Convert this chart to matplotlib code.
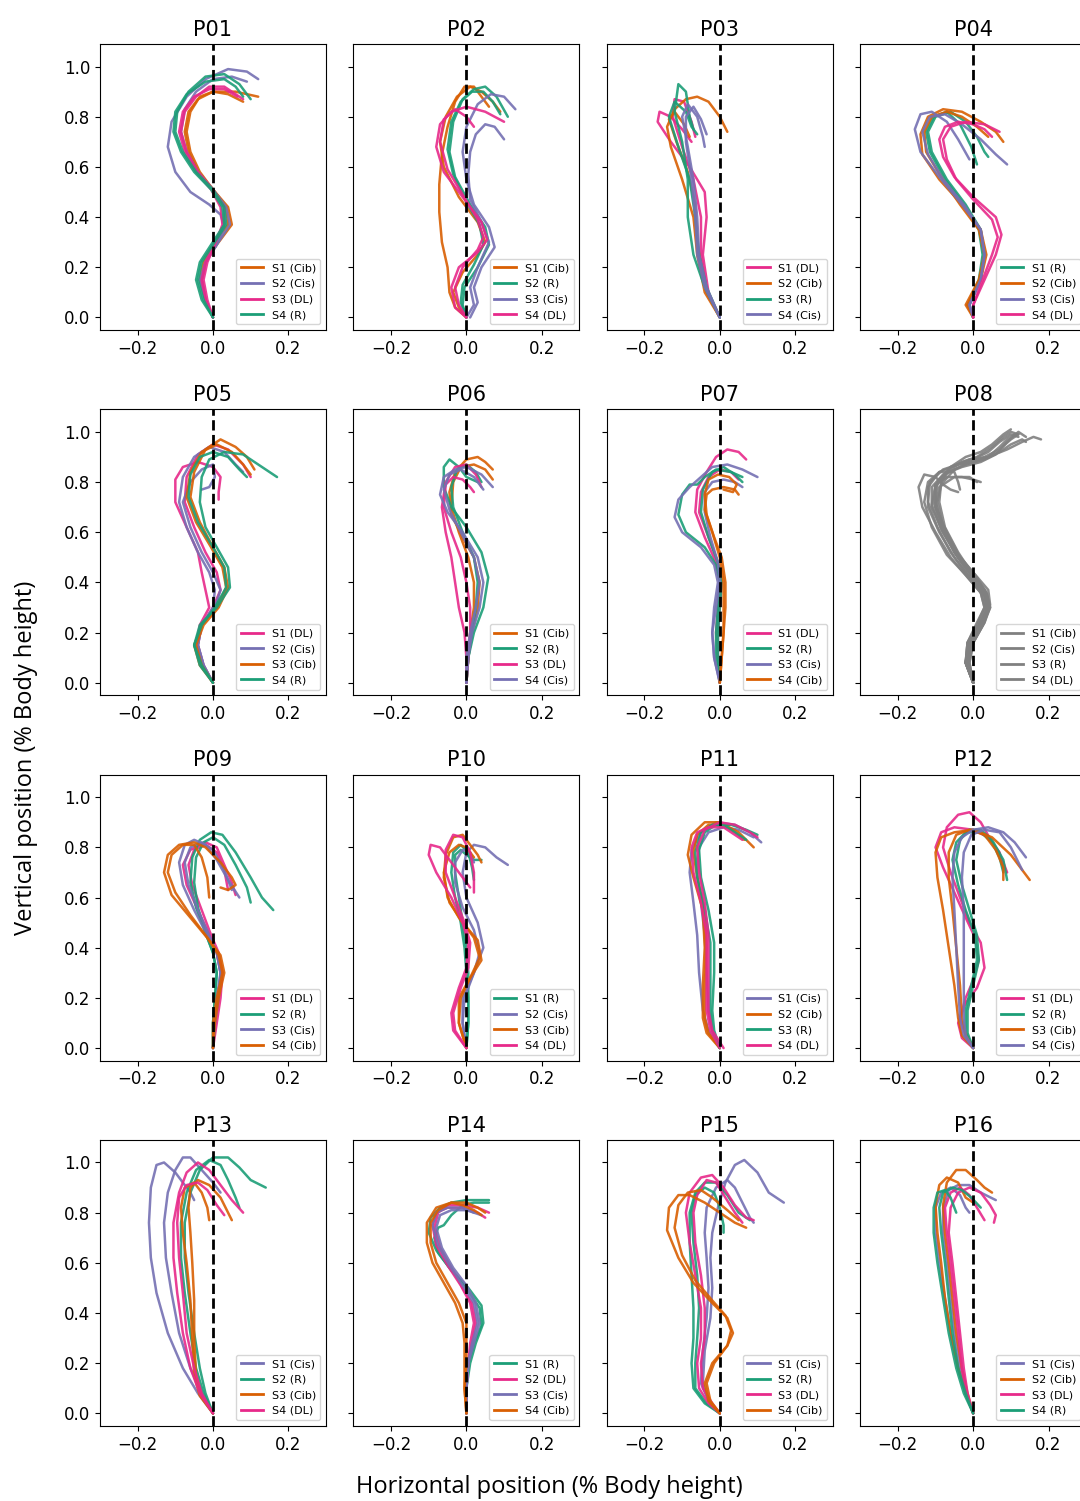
import numpy as np
import matplotlib
matplotlib.use("Agg")
import matplotlib.pyplot as plt
from matplotlib.lines import Line2D

# condition colours (Dark2)
COLORS = {"Cib": "#d95f02", "Cis": "#7570b3", "DL": "#e7298a", "R": "#1b9e77"}
GRAY = "#808080"

TITLES = ["P%02d" % i for i in range(1, 17)]

# session order (legend) per participant
SESSIONS = [
    ["Cib", "Cis", "DL", "R"], ["Cib", "R", "Cis", "DL"], ["DL", "Cib", "R", "Cis"], ["R", "Cib", "Cis", "DL"],
    ["DL", "Cis", "Cib", "R"], ["Cib", "R", "DL", "Cis"], ["DL", "R", "Cis", "Cib"], ["Cib", "Cis", "R", "DL"],
    ["DL", "R", "Cis", "Cib"], ["R", "Cis", "Cib", "DL"], ["Cis", "Cib", "R", "DL"], ["DL", "R", "Cib", "Cis"],
    ["Cis", "R", "Cib", "DL"], ["R", "DL", "Cis", "Cib"], ["Cis", "R", "DL", "Cib"], ["Cis", "Cib", "DL", "R"],
]

# trajectories, (condition, [(x, y), ...])
P01 = [
    ("Cib", [(0,0),(-0.02,0.07),(-0.03,0.15),(-0.02,0.22),(0.01,0.29),(0.05,0.37),(0.04,0.44),(0.0,0.51),(-0.04,0.58),(-0.065,0.66),(-0.075,0.74),(-0.065,0.82),(-0.04,0.87),(0.0,0.9),(0.06,0.9),(0.12,0.88)]),
    ("Cib", [(0,0),(-0.02,0.07),(-0.035,0.15),(-0.025,0.22),(0.0,0.29),(0.04,0.37),(0.035,0.44),(0.0,0.51),(-0.035,0.58),(-0.06,0.66),(-0.07,0.74),(-0.06,0.82),(-0.035,0.88),(0.0,0.9),(0.04,0.89),(0.08,0.86)]),
    ("Cis", [(0,0),(-0.02,0.07),(-0.03,0.15),(-0.02,0.22),(0.01,0.29),(0.03,0.36),(0.02,0.41),(-0.01,0.45),(-0.06,0.5),(-0.1,0.58),(-0.12,0.68),(-0.11,0.78),(-0.07,0.88),(-0.02,0.95),(0.04,0.99),(0.09,0.98),(0.12,0.95)]),
    ("Cis", [(0,0),(-0.02,0.07),(-0.035,0.15),(-0.02,0.22),(0.01,0.29),(0.045,0.37),(0.035,0.44),(0.0,0.51),(-0.04,0.58),(-0.07,0.66),(-0.085,0.74),(-0.075,0.83),(-0.045,0.9),(0.0,0.95),(0.05,0.96),(0.09,0.94)]),
    ("DL", [(0,0),(-0.02,0.07),(-0.03,0.15),(-0.02,0.22),(0.0,0.29),(0.03,0.37),(0.03,0.44),(0.0,0.51),(-0.04,0.58),(-0.07,0.66),(-0.085,0.74),(-0.075,0.82),(-0.045,0.88),(-0.01,0.92),(0.03,0.92),(0.08,0.87)]),
    ("DL", [(0,0),(-0.015,0.07),(-0.025,0.15),(-0.015,0.22),(0.005,0.29),(0.025,0.37),(0.02,0.44),(-0.005,0.51),(-0.045,0.58),(-0.075,0.66),(-0.09,0.74),(-0.08,0.82),(-0.05,0.88),(-0.01,0.91),(0.03,0.91),(0.065,0.88)]),
    ("R", [(0,0),(-0.025,0.07),(-0.04,0.15),(-0.03,0.22),(0.0,0.29),(0.035,0.37),(0.03,0.44),(0.0,0.51),(-0.045,0.58),(-0.08,0.66),(-0.1,0.74),(-0.095,0.82),(-0.065,0.9),(-0.02,0.96),(0.03,0.97),(0.07,0.93),(0.1,0.87)]),
    ("R", [(0,0),(-0.03,0.07),(-0.045,0.15),(-0.035,0.22),(-0.005,0.29),(0.03,0.37),(0.025,0.44),(-0.005,0.51),(-0.05,0.58),(-0.085,0.66),(-0.105,0.74),(-0.1,0.82),(-0.07,0.89),(-0.02,0.94),(0.03,0.95),(0.06,0.92),(0.08,0.88)]),
]
P02 = [
    ("Cib", [(0,0),(-0.03,0.04),(-0.045,0.1),(-0.05,0.2),(-0.065,0.3),(-0.072,0.42),(-0.072,0.53),(-0.065,0.65),(-0.05,0.76),(-0.03,0.86),(-0.005,0.92),(0.02,0.92),(0.04,0.88),(0.06,0.84)]),
    ("Cib", [(0,0),(-0.02,0.04),(-0.035,0.1),(-0.01,0.18),(0.03,0.25),(0.05,0.3),(0.03,0.38),(-0.02,0.48),(-0.06,0.6),(-0.07,0.7),(-0.055,0.8),(-0.025,0.88),(0.01,0.92),(0.04,0.9),(0.07,0.86),(0.09,0.82)]),
    ("R", [(0,0),(-0.01,0.05),(-0.005,0.12),(0.03,0.2),(0.06,0.29),(0.05,0.36),(0.01,0.45),(-0.03,0.56),(-0.045,0.66),(-0.035,0.78),(-0.01,0.87),(0.02,0.91),(0.05,0.92),(0.08,0.88),(0.11,0.8)]),
    ("R", [(0,0),(-0.015,0.06),(-0.01,0.13),(0.02,0.21),(0.045,0.29),(0.035,0.37),(0.0,0.46),(-0.035,0.57),(-0.05,0.67),(-0.04,0.78),(-0.015,0.86),(0.015,0.9),(0.045,0.9),(0.07,0.86),(0.09,0.81)]),
    ("Cis", [(0.01,0),(0.03,0.06),(0.02,0.12),(0.04,0.2),(0.075,0.28),(0.06,0.36),(0.02,0.45),(0.0,0.55),(-0.01,0.66),(0.0,0.76),(0.03,0.85),(0.065,0.89),(0.1,0.88),(0.13,0.83)]),
    ("Cis", [(0,0),(0.02,0.05),(0.01,0.12),(0.03,0.2),(0.06,0.3),(0.04,0.38),(0.01,0.47),(0.005,0.57),(0.01,0.66),(0.025,0.73),(0.05,0.77),(0.075,0.76),(0.1,0.71)]),
    ("DL", [(0,0),(-0.03,0.04),(-0.04,0.12),(-0.02,0.2),(0.03,0.26),(0.055,0.31),(0.04,0.38),(-0.01,0.48),(-0.06,0.58),(-0.08,0.68),(-0.07,0.77),(-0.04,0.82),(0.0,0.84),(0.05,0.82),(0.1,0.78)]),
    ("DL", [(0,0),(-0.02,0.05),(-0.03,0.12),(-0.01,0.2),(0.03,0.27),(0.045,0.32),(0.03,0.39),(-0.01,0.49),(-0.05,0.59),(-0.07,0.7),(-0.06,0.79),(-0.03,0.83),(0.0,0.8),(0.02,0.76)]),
]
P03 = [
    ("DL", [(0,0),(-0.03,0.1),(-0.045,0.25),(-0.035,0.4),(-0.04,0.5),(-0.08,0.6),(-0.13,0.7),(-0.165,0.78),(-0.16,0.82),(-0.13,0.8),(-0.1,0.75),(-0.075,0.7)]),
    ("DL", [(0,0),(-0.035,0.1),(-0.05,0.25),(-0.05,0.4),(-0.07,0.55),(-0.1,0.68),(-0.125,0.8),(-0.12,0.87),(-0.095,0.86),(-0.075,0.78),(-0.065,0.72)]),
    ("Cib", [(0,0),(-0.04,0.1),(-0.06,0.25),(-0.07,0.4),(-0.1,0.55),(-0.13,0.68),(-0.14,0.76),(-0.12,0.83),(-0.09,0.87),(-0.06,0.88),(-0.03,0.86),(0.0,0.8),(0.02,0.74)]),
    ("Cib", [(0,0),(-0.04,0.12),(-0.06,0.3),(-0.065,0.45),(-0.085,0.58),(-0.115,0.7),(-0.135,0.79),(-0.12,0.82),(-0.095,0.77),(-0.08,0.72)]),
    ("R", [(0,0),(-0.04,0.12),(-0.07,0.25),(-0.085,0.4),(-0.085,0.55),(-0.1,0.7),(-0.12,0.82),(-0.11,0.93),(-0.09,0.9),(-0.08,0.8),(-0.07,0.75)]),
    ("R", [(0,0),(-0.035,0.12),(-0.055,0.25),(-0.065,0.4),(-0.08,0.55),(-0.11,0.68),(-0.135,0.8),(-0.12,0.86),(-0.09,0.82),(-0.075,0.76),(-0.06,0.73)]),
    ("Cis", [(0,0),(-0.04,0.12),(-0.06,0.25),(-0.065,0.4),(-0.075,0.55),(-0.09,0.7),(-0.09,0.8),(-0.07,0.84),(-0.05,0.79),(-0.035,0.73)]),
    ("Cis", [(0,0),(-0.035,0.12),(-0.055,0.25),(-0.06,0.4),(-0.07,0.55),(-0.085,0.68),(-0.1,0.8),(-0.085,0.85),(-0.06,0.8),(-0.045,0.72),(-0.04,0.68)]),
]
P04 = [
    ("R", [(0,0),(-0.01,0.05),(0.02,0.15),(0.03,0.25),(0.02,0.35),(-0.02,0.45),(-0.07,0.55),(-0.11,0.66),(-0.12,0.74),(-0.1,0.8),(-0.06,0.82),(-0.02,0.78),(0.01,0.72),(0.03,0.66),(0.04,0.64)]),
    ("R", [(0,0),(-0.015,0.05),(0.015,0.15),(0.025,0.25),(0.015,0.35),(-0.025,0.45),(-0.075,0.55),(-0.115,0.66),(-0.125,0.74),(-0.105,0.8),(-0.07,0.82),(-0.035,0.77),(-0.005,0.68),(0.01,0.61)]),
    ("Cib", [(0,0),(-0.015,0.05),(0.02,0.15),(0.035,0.25),(0.02,0.35),(-0.03,0.45),(-0.09,0.55),(-0.135,0.65),(-0.14,0.73),(-0.12,0.8),(-0.08,0.83),(-0.03,0.82),(0.02,0.78),(0.06,0.74),(0.08,0.7)]),
    ("Cib", [(0,0),(-0.02,0.05),(0.015,0.15),(0.03,0.25),(0.015,0.35),(-0.035,0.45),(-0.085,0.56),(-0.125,0.66),(-0.13,0.74),(-0.11,0.8),(-0.07,0.82),(-0.03,0.8),(0.01,0.76),(0.04,0.72)]),
    ("Cis", [(0,0),(-0.01,0.05),(0.02,0.15),(0.03,0.25),(0.02,0.35),(-0.03,0.45),(-0.09,0.56),(-0.14,0.66),(-0.155,0.75),(-0.14,0.81),(-0.11,0.82),(-0.07,0.78),(-0.04,0.71),(-0.01,0.63)]),
    ("Cis", [(0,0),(-0.01,0.05),(0.02,0.15),(0.03,0.25),(0.02,0.35),(-0.025,0.45),(-0.08,0.55),(-0.12,0.65),(-0.135,0.74),(-0.115,0.8),(-0.075,0.81),(-0.03,0.77),(0.02,0.71),(0.06,0.65),(0.09,0.61)]),
    ("DL", [(0,0),(0.0,0.05),(0.03,0.15),(0.06,0.25),(0.075,0.33),(0.06,0.4),(0.0,0.48),(-0.05,0.56),(-0.08,0.64),(-0.09,0.71),(-0.075,0.76),(-0.04,0.78),(0.0,0.77),(0.03,0.75),(0.05,0.72)]),
    ("DL", [(0,0),(0.0,0.05),(0.025,0.15),(0.05,0.25),(0.065,0.32),(0.05,0.39),(0.0,0.47),(-0.045,0.55),(-0.07,0.63),(-0.08,0.71),(-0.06,0.76),(-0.02,0.78),(0.03,0.77),(0.07,0.74)]),
]
P05 = [
    ("DL", [(0,0),(-0.03,0.07),(-0.045,0.15),(-0.035,0.23),(-0.01,0.3),(-0.02,0.37),(-0.03,0.44),(-0.04,0.52),(-0.07,0.62),(-0.1,0.72),(-0.1,0.81),(-0.08,0.86),(-0.04,0.88),(0.0,0.86),(0.02,0.82),(0.015,0.76),(0.015,0.73)]),
    ("DL", [(0,0),(-0.025,0.07),(-0.04,0.15),(-0.03,0.23),(0.0,0.3),(0.02,0.37),(0.01,0.44),(-0.02,0.52),(-0.05,0.62),(-0.075,0.72),(-0.07,0.82),(-0.04,0.91),(0.0,0.95),(0.04,0.93),(0.08,0.87),(0.1,0.82)]),
    ("Cis", [(0,0),(-0.025,0.07),(-0.04,0.15),(-0.03,0.23),(0.0,0.3),(0.005,0.37),(-0.01,0.44),(-0.04,0.52),(-0.07,0.62),(-0.09,0.72),(-0.08,0.82),(-0.05,0.9),(-0.01,0.94),(0.03,0.92),(0.06,0.87),(0.08,0.84)]),
    ("Cis", [(0,0),(-0.025,0.07),(-0.04,0.15),(-0.03,0.23),(0.005,0.3),(0.02,0.37),(0.0,0.44),(-0.03,0.52),(-0.06,0.62),(-0.08,0.72),(-0.06,0.8),(-0.03,0.85),(0.0,0.87),(0.005,0.82),(-0.01,0.78),(-0.03,0.77)]),
    ("Cib", [(0,0),(-0.03,0.07),(-0.045,0.15),(-0.025,0.23),(0.015,0.3),(0.04,0.38),(0.03,0.46),(0.0,0.54),(-0.035,0.64),(-0.06,0.74),(-0.05,0.84),(-0.02,0.93),(0.02,0.97),(0.06,0.94),(0.09,0.9),(0.11,0.85)]),
    ("Cib", [(0,0),(-0.035,0.07),(-0.05,0.15),(-0.03,0.23),(0.01,0.3),(0.035,0.38),(0.025,0.46),(-0.005,0.54),(-0.045,0.64),(-0.07,0.74),(-0.06,0.84),(-0.03,0.92),(0.01,0.95),(0.05,0.92),(0.08,0.87),(0.1,0.83)]),
    ("R", [(0,0),(-0.03,0.07),(-0.05,0.15),(-0.035,0.23),(0.01,0.3),(0.045,0.38),(0.04,0.46),(0.01,0.54),(-0.02,0.62),(-0.035,0.72),(-0.03,0.82),(-0.01,0.89),(0.03,0.92),(0.08,0.91),(0.13,0.86),(0.17,0.82)]),
    ("R", [(0,0),(-0.035,0.07),(-0.05,0.15),(-0.03,0.23),(0.005,0.3),(0.035,0.38),(0.03,0.46),(0.0,0.54),(-0.04,0.64),(-0.065,0.74),(-0.06,0.83),(-0.035,0.9),(0.0,0.92),(0.04,0.9),(0.07,0.85),(0.09,0.82)]),
]
P06 = [
    ("Cib", [(0,0),(0.005,0.1),(0.015,0.2),(0.03,0.3),(0.035,0.4),(0.02,0.5),(-0.01,0.58),(-0.04,0.67),(-0.045,0.76),(-0.03,0.84),(0.0,0.89),(0.03,0.9),(0.05,0.88),(0.07,0.85)]),
    ("Cib", [(0,0),(0.005,0.1),(0.01,0.2),(0.02,0.3),(0.02,0.4),(0.005,0.5),(-0.02,0.6),(-0.04,0.7),(-0.035,0.8),(-0.015,0.86),(0.02,0.87),(0.05,0.85),(0.07,0.81)]),
    ("R", [(0,0),(0.005,0.1),(0.02,0.2),(0.045,0.3),(0.058,0.42),(0.04,0.52),(0.0,0.62),(-0.04,0.7),(-0.06,0.78),(-0.06,0.86),(-0.045,0.89),(-0.02,0.86),(0.0,0.82),(0.03,0.8)]),
    ("R", [(0,0),(0.005,0.1),(0.015,0.2),(0.025,0.3),(0.03,0.4),(0.02,0.5),(-0.01,0.6),(-0.035,0.7),(-0.04,0.78),(-0.025,0.85),(0.0,0.87),(0.025,0.84),(0.04,0.8)]),
    ("DL", [(0,0),(0.0,0.1),(-0.005,0.2),(-0.02,0.3),(-0.03,0.4),(-0.04,0.5),(-0.055,0.6),(-0.065,0.7),(-0.055,0.8),(-0.03,0.86),(0.0,0.87),(0.025,0.83),(0.04,0.78)]),
    ("DL", [(0,0),(0.005,0.1),(0.01,0.2),(0.01,0.3),(0.0,0.4),(-0.015,0.5),(-0.04,0.6),(-0.06,0.7),(-0.055,0.79),(-0.035,0.82),(-0.01,0.81),(0.01,0.78),(0.02,0.76)]),
    ("Cis", [(0,0),(0.005,0.1),(0.015,0.2),(0.035,0.3),(0.045,0.4),(0.03,0.5),(-0.01,0.6),(-0.05,0.68),(-0.07,0.75),(-0.06,0.82),(-0.03,0.85),(0.0,0.86),(0.04,0.83),(0.07,0.78)]),
    ("Cis", [(0,0),(0.0,0.1),(0.01,0.2),(0.025,0.3),(0.035,0.4),(0.02,0.5),(-0.015,0.6),(-0.045,0.69),(-0.06,0.77),(-0.045,0.83),(-0.015,0.85),(0.02,0.82),(0.045,0.77)]),
]
P07 = [
    ("DL", [(0,0),(-0.005,0.1),(-0.01,0.2),(-0.005,0.3),(0.0,0.4),(-0.01,0.48),(-0.04,0.58),(-0.065,0.68),(-0.06,0.77),(-0.035,0.84),(-0.01,0.9),(0.02,0.93),(0.05,0.92),(0.07,0.89)]),
    ("DL", [(0,0),(-0.005,0.1),(-0.005,0.2),(0.0,0.3),(0.005,0.4),(-0.005,0.48),(-0.03,0.58),(-0.055,0.68),(-0.05,0.76),(-0.03,0.82),(0.0,0.85),(0.03,0.84),(0.05,0.81)]),
    ("R", [(0,0),(-0.01,0.1),(-0.01,0.2),(-0.005,0.3),(0.0,0.4),(-0.01,0.47),(-0.04,0.54),(-0.09,0.6),(-0.11,0.67),(-0.1,0.75),(-0.08,0.79),(-0.06,0.79),(-0.04,0.82),(-0.01,0.85),(0.03,0.84),(0.06,0.82)]),
    ("R", [(0,0),(-0.005,0.1),(-0.005,0.2),(0.0,0.3),(0.005,0.4),(-0.005,0.48),(-0.03,0.58),(-0.05,0.68),(-0.045,0.77),(-0.02,0.84),(0.01,0.86),(0.04,0.83),(0.06,0.8)]),
    ("Cis", [(0,0),(-0.015,0.1),(-0.02,0.2),(-0.015,0.3),(-0.005,0.4),(-0.015,0.47),(-0.05,0.54),(-0.1,0.6),(-0.12,0.66),(-0.11,0.73),(-0.08,0.78),(-0.05,0.82),(-0.02,0.86),(0.02,0.87),(0.06,0.85),(0.1,0.82)]),
    ("Cis", [(0,0),(-0.015,0.1),(-0.02,0.2),(-0.01,0.3),(0.0,0.4),(-0.005,0.48),(-0.025,0.58),(-0.04,0.68),(-0.04,0.76),(-0.02,0.8),(0.01,0.81),(0.04,0.8),(0.06,0.78)]),
    ("Cib", [(0,0),(0.005,0.1),(0.01,0.2),(0.015,0.3),(0.015,0.4),(0.005,0.5),(-0.015,0.58),(-0.035,0.67),(-0.04,0.75),(-0.03,0.81),(-0.005,0.83),(0.025,0.82),(0.045,0.79),(0.035,0.76),(0.01,0.77)]),
    ("Cib", [(0,0),(0.005,0.1),(0.01,0.2),(0.01,0.3),(0.01,0.4),(0.0,0.5),(-0.02,0.6),(-0.04,0.69),(-0.035,0.75),(-0.02,0.77),(0.01,0.78),(0.04,0.77),(0.05,0.75)]),
]
P08 = [
    ("Cib", [(0,0),(-0.02,0.08),(-0.01,0.16),(0.02,0.23),(0.04,0.29),(0.03,0.35),(-0.01,0.42),(-0.05,0.5),(-0.09,0.6),(-0.12,0.7),(-0.12,0.78),(-0.09,0.84),(-0.04,0.87),(0.0,0.89),(0.04,0.92),(0.07,0.96),(0.1,0.99),(0.12,0.98)]),
    ("Cib", [(0,0),(-0.015,0.08),(-0.005,0.16),(0.025,0.23),(0.045,0.3),(0.035,0.36),(0.0,0.43),(-0.04,0.5),(-0.08,0.6),(-0.11,0.7),(-0.11,0.78),(-0.08,0.83),(-0.03,0.86),(0.02,0.88),(0.06,0.91),(0.09,0.96),(0.12,1.0),(0.14,0.98)]),
    ("Cib", [(0,0),(-0.02,0.08),(-0.015,0.16),(0.015,0.23),(0.035,0.29),(0.025,0.35),(-0.015,0.42),(-0.06,0.5),(-0.1,0.6),(-0.135,0.7),(-0.145,0.78),(-0.13,0.83),(-0.1,0.82),(-0.08,0.79),(-0.06,0.77),(-0.04,0.76)]),
    ("Cis", [(0,0),(-0.02,0.08),(-0.01,0.16),(0.02,0.24),(0.04,0.3),(0.03,0.37),(-0.01,0.44),(-0.05,0.52),(-0.08,0.62),(-0.1,0.72),(-0.095,0.8),(-0.06,0.86),(-0.01,0.89),(0.04,0.9),(0.09,0.93),(0.13,0.96),(0.16,0.98),(0.18,0.97)]),
    ("Cis", [(0,0),(-0.01,0.08),(0.0,0.16),(0.03,0.24),(0.045,0.3),(0.035,0.36),(0.005,0.43),(-0.035,0.5),(-0.07,0.6),(-0.1,0.7),(-0.1,0.78),(-0.07,0.84),(-0.03,0.88),(0.01,0.9),(0.05,0.94),(0.08,0.98),(0.1,1.0),(0.12,0.99)]),
    ("Cis", [(0,0),(-0.02,0.08),(-0.015,0.16),(0.01,0.24),(0.03,0.3),(0.02,0.36),(-0.02,0.44),(-0.06,0.52),(-0.095,0.62),(-0.12,0.72),(-0.115,0.8),(-0.08,0.85),(-0.04,0.87),(0.0,0.88),(0.04,0.9),(0.07,0.94),(0.09,0.97),(0.11,0.99)]),
    ("R", [(0,0),(-0.015,0.08),(0.0,0.16),(0.03,0.24),(0.04,0.29),(0.03,0.35),(-0.01,0.43),(-0.05,0.52),(-0.085,0.62),(-0.105,0.72),(-0.1,0.79),(-0.07,0.82),(-0.03,0.82),(0.0,0.81),(0.02,0.8)]),
    ("R", [(0,0),(-0.02,0.08),(-0.01,0.16),(0.015,0.23),(0.035,0.3),(0.03,0.36),(-0.005,0.43),(-0.045,0.51),(-0.085,0.61),(-0.11,0.71),(-0.1,0.79),(-0.065,0.84),(-0.02,0.87),(0.03,0.89),(0.07,0.92),(0.1,0.95),(0.13,0.97),(0.14,0.96)]),
    ("R", [(0,0),(-0.015,0.08),(-0.005,0.16),(0.025,0.24),(0.045,0.31),(0.04,0.37),(0.0,0.44),(-0.045,0.52),(-0.08,0.62),(-0.095,0.72),(-0.085,0.79),(-0.05,0.85),(-0.01,0.88),(0.03,0.9),(0.07,0.93),(0.1,0.97),(0.12,0.99)]),
    ("DL", [(0,0),(-0.02,0.08),(-0.015,0.16),(0.01,0.23),(0.03,0.3),(0.02,0.36),(-0.02,0.43),(-0.07,0.51),(-0.11,0.62),(-0.13,0.72),(-0.12,0.8),(-0.09,0.84),(-0.05,0.84),(-0.04,0.8),(-0.035,0.77)]),
    ("DL", [(0,0),(-0.01,0.08),(0.0,0.16),(0.025,0.23),(0.04,0.3),(0.03,0.36),(-0.005,0.44),(-0.04,0.52),(-0.075,0.62),(-0.09,0.72),(-0.085,0.8),(-0.06,0.86),(-0.02,0.9),(0.02,0.92),(0.05,0.95),(0.08,0.99),(0.1,1.01)]),
    ("DL", [(0,0),(-0.02,0.08),(-0.01,0.16),(0.02,0.23),(0.04,0.29),(0.035,0.35),(0.0,0.42),(-0.04,0.5),(-0.075,0.6),(-0.1,0.7),(-0.09,0.78),(-0.05,0.82),(-0.01,0.82),(0.01,0.8)]),
]
P09 = [
    ("DL", [(0,0),(0.005,0.1),(0.015,0.2),(0.02,0.3),(0.01,0.38),(-0.01,0.45),(-0.04,0.55),(-0.07,0.65),(-0.08,0.73),(-0.06,0.79),(-0.02,0.82),(0.01,0.8),(0.03,0.73),(0.05,0.66),(0.06,0.61)]),
    ("DL", [(0,0),(0.01,0.1),(0.02,0.2),(0.025,0.3),(0.015,0.38),(-0.005,0.45),(-0.03,0.55),(-0.055,0.65),(-0.065,0.73),(-0.05,0.79),(-0.02,0.81),(0.01,0.78),(0.03,0.71),(0.04,0.63)]),
    ("R", [(0,0),(0.0,0.1),(0.005,0.2),(0.01,0.3),(0.0,0.38),(-0.02,0.46),(-0.045,0.56),(-0.06,0.66),(-0.055,0.76),(-0.035,0.83),(-0.005,0.86),(0.025,0.85),(0.06,0.78),(0.1,0.68),(0.13,0.6),(0.16,0.55)]),
    ("R", [(0,0),(0.0,0.1),(0.005,0.2),(0.01,0.3),(0.0,0.38),(-0.02,0.46),(-0.04,0.56),(-0.05,0.66),(-0.045,0.76),(-0.025,0.82),(0.0,0.84),(0.03,0.81),(0.06,0.73),(0.09,0.64),(0.1,0.58)]),
    ("Cis", [(0,0),(0.005,0.1),(0.015,0.2),(0.02,0.3),(0.01,0.38),(-0.015,0.45),(-0.05,0.55),(-0.08,0.65),(-0.09,0.74),(-0.075,0.81),(-0.05,0.83),(-0.02,0.81),(0.01,0.75),(0.04,0.67),(0.07,0.6)]),
    ("Cis", [(0,0),(0.005,0.1),(0.01,0.2),(0.02,0.3),(0.01,0.38),(-0.01,0.45),(-0.04,0.55),(-0.065,0.65),(-0.075,0.74),(-0.06,0.8),(-0.03,0.82),(0.0,0.79),(0.03,0.71),(0.05,0.63)]),
    ("Cib", [(0,0),(0.005,0.1),(0.015,0.2),(0.03,0.3),(0.02,0.37),(-0.01,0.43),(-0.06,0.52),(-0.11,0.61),(-0.13,0.7),(-0.12,0.77),(-0.09,0.81),(-0.05,0.82),(-0.02,0.8),(0.02,0.74),(0.05,0.68),(0.06,0.65),(0.04,0.63),(0.02,0.64)]),
    ("Cib", [(0,0),(0.0,0.1),(0.01,0.2),(0.025,0.3),(0.015,0.37),(-0.015,0.44),(-0.06,0.53),(-0.1,0.62),(-0.12,0.7),(-0.11,0.77),(-0.08,0.81),(-0.05,0.81),(-0.03,0.76),(-0.015,0.68),(-0.01,0.6)]),
]
P10 = [
    ("R", [(0,0),(0.005,0.1),(0.005,0.2),(0.005,0.3),(0.0,0.4),(-0.01,0.5),(-0.02,0.6),(-0.03,0.7),(-0.03,0.77),(-0.015,0.79),(0.0,0.77),(0.02,0.75),(0.04,0.75)]),
    ("R", [(0,0),(0.005,0.1),(0.005,0.2),(0.0,0.3),(-0.005,0.4),(-0.015,0.5),(-0.03,0.6),(-0.04,0.7),(-0.035,0.78),(-0.015,0.81),(0.005,0.78),(0.015,0.72),(0.02,0.67)]),
    ("Cis", [(0,0),(-0.01,0.1),(-0.01,0.2),(0.02,0.3),(0.045,0.4),(0.03,0.5),(0.0,0.6),(-0.01,0.7),(0.0,0.78),(0.02,0.81),(0.05,0.8),(0.08,0.76),(0.11,0.73)]),
    ("Cis", [(0,0),(-0.01,0.1),(-0.005,0.2),(0.02,0.3),(0.035,0.38),(0.02,0.47),(-0.01,0.56),(-0.03,0.66),(-0.03,0.74),(-0.01,0.79),(0.01,0.78),(0.02,0.74)]),
    ("Cib", [(0,0),(-0.02,0.1),(-0.02,0.2),(0.01,0.28),(0.04,0.35),(0.03,0.43),(-0.01,0.5),(-0.045,0.58),(-0.06,0.68),(-0.055,0.77),(-0.035,0.84),(-0.01,0.85),(0.01,0.81),(0.03,0.77),(0.04,0.74)]),
    ("Cib", [(0,0),(-0.02,0.1),(-0.015,0.2),(0.01,0.28),(0.035,0.36),(0.02,0.44),(-0.02,0.52),(-0.05,0.6),(-0.06,0.7),(-0.045,0.78),(-0.02,0.81),(0.0,0.8),(0.02,0.76)]),
    ("DL", [(0,0),(-0.035,0.07),(-0.04,0.14),(-0.02,0.24),(0.0,0.32),(0.005,0.42),(-0.01,0.5),(-0.04,0.6),(-0.08,0.7),(-0.1,0.77),(-0.095,0.81),(-0.07,0.8),(-0.04,0.74),(-0.01,0.68),(0.01,0.64)]),
    ("DL", [(0,0),(-0.03,0.07),(-0.035,0.14),(-0.015,0.24),(0.005,0.32),(0.01,0.42),(-0.005,0.5),(-0.03,0.6),(-0.055,0.7),(-0.055,0.79),(-0.035,0.85),(-0.01,0.84),(0.01,0.78),(0.02,0.7),(0.02,0.62)]),
]
P11 = [
    ("Cis", [(0,0),(-0.03,0.07),(-0.045,0.15),(-0.055,0.3),(-0.06,0.45),(-0.07,0.58),(-0.08,0.7),(-0.075,0.79),(-0.05,0.86),(-0.01,0.9),(0.04,0.89),(0.08,0.86),(0.11,0.82)]),
    ("Cis", [(0,0),(-0.02,0.07),(-0.03,0.15),(-0.035,0.3),(-0.04,0.45),(-0.05,0.58),(-0.06,0.7),(-0.055,0.8),(-0.03,0.86),(0.01,0.88),(0.05,0.87),(0.09,0.84)]),
    ("Cib", [(0,0),(-0.035,0.06),(-0.045,0.12),(-0.045,0.25),(-0.04,0.4),(-0.045,0.55),(-0.07,0.68),(-0.085,0.77),(-0.075,0.85),(-0.04,0.9),(0.0,0.9),(0.05,0.86),(0.09,0.8)]),
    ("Cib", [(0,0),(-0.03,0.06),(-0.04,0.12),(-0.04,0.25),(-0.035,0.4),(-0.04,0.55),(-0.06,0.68),(-0.07,0.78),(-0.06,0.85),(-0.03,0.89),(0.01,0.89),(0.04,0.86),(0.065,0.83)]),
    ("R", [(0,0),(-0.015,0.07),(-0.02,0.15),(-0.015,0.3),(-0.015,0.42),(-0.03,0.55),(-0.05,0.68),(-0.055,0.79),(-0.04,0.86),(-0.01,0.89),(0.03,0.89),(0.07,0.87),(0.1,0.85)]),
    ("R", [(0,0),(-0.02,0.07),(-0.025,0.15),(-0.025,0.3),(-0.025,0.42),(-0.04,0.55),(-0.06,0.68),(-0.065,0.78),(-0.05,0.86),(-0.02,0.89),(0.02,0.88),(0.05,0.85),(0.07,0.83)]),
    ("DL", [(0.01,0),(-0.02,0.07),(-0.03,0.15),(-0.03,0.3),(-0.03,0.45),(-0.04,0.58),(-0.055,0.7),(-0.06,0.8),(-0.04,0.87),(0.0,0.9),(0.04,0.89),(0.08,0.86),(0.1,0.84)]),
    ("DL", [(0,0),(-0.025,0.07),(-0.035,0.15),(-0.035,0.3),(-0.035,0.45),(-0.05,0.58),(-0.07,0.7),(-0.075,0.8),(-0.06,0.86),(-0.03,0.88),(0.01,0.88),(0.04,0.85),(0.06,0.83)]),
]
P12 = [
    ("DL", [(0,0),(-0.03,0.04),(-0.04,0.1),(-0.02,0.18),(0.01,0.24),(0.03,0.32),(0.02,0.42),(-0.01,0.5),(-0.035,0.6),(-0.06,0.7),(-0.08,0.8),(-0.07,0.88),(-0.04,0.93),(-0.01,0.94),(0.02,0.9),(0.05,0.82),(0.08,0.74),(0.09,0.7)]),
    ("DL", [(0,0),(-0.02,0.05),(-0.035,0.12),(-0.02,0.2),(0.0,0.27),(0.015,0.35),(0.005,0.44),(-0.02,0.52),(-0.05,0.62),(-0.08,0.72),(-0.1,0.8),(-0.085,0.86),(-0.05,0.88),(0.0,0.87),(0.04,0.84),(0.07,0.78),(0.08,0.72)]),
    ("R", [(0,0),(-0.015,0.06),(-0.015,0.15),(0.0,0.25),(0.015,0.35),(0.01,0.45),(-0.01,0.55),(-0.03,0.65),(-0.045,0.75),(-0.035,0.83),(-0.01,0.87),(0.02,0.87),(0.05,0.83),(0.08,0.75),(0.09,0.67)]),
    ("R", [(0,0),(-0.02,0.06),(-0.02,0.15),(-0.005,0.25),(0.01,0.35),(0.005,0.45),(-0.02,0.55),(-0.04,0.65),(-0.055,0.75),(-0.045,0.82),(-0.02,0.86),(0.02,0.86),(0.05,0.82),(0.07,0.76),(0.08,0.7)]),
    ("Cib", [(0,0),(-0.03,0.05),(-0.04,0.12),(-0.05,0.25),(-0.065,0.4),(-0.08,0.55),(-0.095,0.68),(-0.1,0.78),(-0.085,0.84),(-0.05,0.86),(0.0,0.87),(0.05,0.84),(0.1,0.77),(0.13,0.71),(0.15,0.67)]),
    ("Cib", [(0,0),(-0.02,0.05),(-0.03,0.12),(-0.035,0.25),(-0.045,0.4),(-0.055,0.55),(-0.065,0.68),(-0.065,0.78),(-0.045,0.85),(-0.01,0.87),(0.03,0.85),(0.06,0.79),(0.08,0.72),(0.08,0.67)]),
    ("Cis", [(0,0),(-0.025,0.05),(-0.035,0.12),(-0.04,0.25),(-0.045,0.4),(-0.05,0.55),(-0.055,0.68),(-0.05,0.78),(-0.03,0.84),(0.0,0.87),(0.04,0.88),(0.08,0.86),(0.11,0.82),(0.14,0.76)]),
    ("Cis", [(0,0),(-0.02,0.05),(-0.025,0.12),(-0.025,0.25),(-0.025,0.4),(-0.025,0.55),(-0.03,0.68),(-0.025,0.78),(-0.005,0.85),(0.03,0.87),(0.07,0.86),(0.1,0.8),(0.13,0.71)]),
]
P13 = [
    ("Cis", [(0,0),(-0.04,0.08),(-0.08,0.18),(-0.12,0.32),(-0.15,0.48),(-0.165,0.62),(-0.17,0.76),(-0.165,0.9),(-0.15,0.99),(-0.13,1.0),(-0.1,0.96),(-0.08,0.92),(-0.06,0.88),(-0.05,0.85)]),
    ("Cis", [(0,0),(-0.03,0.08),(-0.06,0.18),(-0.09,0.32),(-0.11,0.48),(-0.125,0.62),(-0.13,0.76),(-0.12,0.88),(-0.1,0.97),(-0.08,1.02),(-0.06,1.02),(-0.03,0.97),(0.0,0.92),(0.02,0.88)]),
    ("R", [(0,0),(-0.02,0.08),(-0.035,0.18),(-0.05,0.32),(-0.065,0.48),(-0.075,0.62),(-0.075,0.76),(-0.06,0.88),(-0.035,0.97),(0.0,1.02),(0.04,1.02),(0.07,0.98),(0.1,0.93),(0.14,0.9)]),
    ("R", [(0,0),(-0.025,0.08),(-0.045,0.18),(-0.06,0.32),(-0.075,0.48),(-0.085,0.62),(-0.085,0.76),(-0.07,0.88),(-0.045,0.97),(-0.01,1.01),(0.02,0.99),(0.04,0.93),(0.06,0.86),(0.07,0.82)]),
    ("Cib", [(0,0),(-0.03,0.07),(-0.045,0.15),(-0.05,0.3),(-0.05,0.45),(-0.055,0.6),(-0.06,0.72),(-0.065,0.82),(-0.06,0.9),(-0.04,0.93),(-0.01,0.91),(0.02,0.86),(0.04,0.8),(0.05,0.77)]),
    ("Cib", [(0,0),(-0.035,0.07),(-0.05,0.15),(-0.055,0.3),(-0.06,0.45),(-0.07,0.6),(-0.08,0.72),(-0.085,0.82),(-0.075,0.9),(-0.05,0.92),(-0.03,0.88),(-0.015,0.82),(-0.01,0.77)]),
    ("DL", [(0,0),(-0.035,0.08),(-0.06,0.18),(-0.08,0.32),(-0.095,0.48),(-0.105,0.62),(-0.105,0.76),(-0.09,0.88),(-0.07,0.96),(-0.04,1.0),(-0.01,0.97),(0.02,0.91),(0.05,0.85),(0.08,0.8)]),
    ("DL", [(0,0),(-0.03,0.08),(-0.05,0.18),(-0.07,0.32),(-0.08,0.48),(-0.09,0.62),(-0.095,0.76),(-0.09,0.86),(-0.07,0.91),(-0.04,0.92),(-0.015,0.89),(0.01,0.83),(0.03,0.79)]),
]
P14 = [
    ("R", [(0,0),(0.0,0.1),(0.005,0.2),(0.02,0.28),(0.04,0.35),(0.035,0.42),(0.0,0.5),(-0.045,0.58),(-0.08,0.65),(-0.1,0.72),(-0.095,0.78),(-0.07,0.82),(-0.04,0.84),(0.0,0.85),(0.03,0.85),(0.06,0.85)]),
    ("R", [(0,0),(0.0,0.1),(0.01,0.2),(0.025,0.28),(0.045,0.36),(0.04,0.43),(0.005,0.5),(-0.04,0.57),(-0.075,0.64),(-0.085,0.7),(-0.075,0.74),(-0.06,0.75),(-0.04,0.79),(-0.01,0.83),(0.02,0.84),(0.06,0.84)]),
    ("DL", [(0,0),(0.0,0.1),(0.005,0.2),(0.015,0.28),(0.025,0.36),(0.015,0.44),(-0.01,0.5),(-0.04,0.58),(-0.07,0.66),(-0.085,0.74),(-0.075,0.8),(-0.05,0.83),(-0.01,0.83),(0.03,0.82),(0.06,0.8)]),
    ("DL", [(0,0),(0.0,0.1),(0.005,0.2),(0.01,0.28),(0.02,0.36),(0.01,0.44),(-0.015,0.51),(-0.05,0.59),(-0.08,0.67),(-0.09,0.75),(-0.08,0.8),(-0.05,0.82),(-0.01,0.82),(0.03,0.8),(0.05,0.78)]),
    ("Cis", [(0,0),(0.0,0.1),(0.005,0.2),(0.02,0.28),(0.035,0.36),(0.025,0.44),(0.0,0.51),(-0.035,0.58),(-0.065,0.66),(-0.08,0.74),(-0.07,0.79),(-0.04,0.81),(0.0,0.81),(0.02,0.8),(0.04,0.79)]),
    ("Cis", [(0,0),(0.0,0.1),(0.005,0.2),(0.015,0.28),(0.03,0.36),(0.02,0.44),(-0.01,0.51),(-0.045,0.59),(-0.075,0.67),(-0.09,0.75),(-0.08,0.8),(-0.05,0.82),(-0.01,0.82),(0.02,0.8)]),
    ("Cib", [(0,0),(-0.005,0.1),(-0.005,0.2),(-0.005,0.28),(-0.01,0.36),(-0.03,0.44),(-0.06,0.52),(-0.09,0.6),(-0.105,0.68),(-0.105,0.76),(-0.08,0.82),(-0.04,0.84),(0.0,0.84),(0.03,0.82),(0.05,0.8)]),
    ("Cib", [(0,0),(-0.005,0.1),(0.0,0.2),(0.0,0.28),(0.0,0.36),(-0.02,0.44),(-0.05,0.52),(-0.08,0.6),(-0.095,0.68),(-0.095,0.76),(-0.075,0.81),(-0.04,0.84),(-0.01,0.83),(0.02,0.81),(0.04,0.79)]),
]
P15 = [
    ("Cis", [(0,0),(-0.03,0.05),(-0.05,0.12),(-0.045,0.25),(-0.035,0.38),(-0.03,0.5),(-0.035,0.62),(-0.04,0.72),(-0.035,0.82),(-0.01,0.9),(0.02,0.93),(0.04,0.9),(0.06,0.84),(0.08,0.78),(0.09,0.76)]),
    ("Cis", [(0,0),(-0.03,0.05),(-0.045,0.12),(-0.04,0.25),(-0.025,0.38),(-0.02,0.5),(-0.025,0.62),(-0.02,0.72),(-0.005,0.82),(0.015,0.92),(0.04,0.99),(0.065,1.01),(0.1,0.96),(0.13,0.88),(0.17,0.84)]),
    ("R", [(0,0),(-0.04,0.04),(-0.07,0.1),(-0.075,0.2),(-0.07,0.3),(-0.07,0.42),(-0.075,0.55),(-0.08,0.68),(-0.08,0.8),(-0.065,0.88),(-0.04,0.92),(-0.01,0.92),(0.02,0.87),(0.05,0.8),(0.08,0.77)]),
    ("R", [(0,0),(-0.035,0.04),(-0.065,0.1),(-0.065,0.2),(-0.06,0.3),(-0.055,0.42),(-0.06,0.55),(-0.07,0.68),(-0.075,0.8),(-0.065,0.87),(-0.04,0.9),(-0.015,0.88),(0.0,0.82),(0.01,0.75),(0.01,0.72)]),
    ("DL", [(0,0),(-0.03,0.04),(-0.055,0.1),(-0.06,0.2),(-0.05,0.3),(-0.05,0.42),(-0.065,0.55),(-0.08,0.68),(-0.09,0.8),(-0.08,0.88),(-0.05,0.94),(-0.02,0.95),(0.01,0.9),(0.04,0.83),(0.07,0.78),(0.09,0.77)]),
    ("DL", [(0,0),(-0.02,0.04),(-0.045,0.1),(-0.05,0.2),(-0.04,0.3),(-0.04,0.42),(-0.05,0.55),(-0.065,0.68),(-0.07,0.8),(-0.06,0.87),(-0.035,0.93),(-0.01,0.92),(0.015,0.86),(0.04,0.8),(0.06,0.76)]),
    ("Cib", [(0,0),(-0.03,0.05),(-0.04,0.12),(-0.02,0.2),(0.02,0.27),(0.035,0.32),(0.02,0.38),(-0.02,0.44),(-0.07,0.52),(-0.11,0.62),(-0.14,0.73),(-0.135,0.82),(-0.11,0.87),(-0.08,0.87),(-0.04,0.84),(0.0,0.8),(0.04,0.76),(0.07,0.74)]),
    ("Cib", [(0,0),(-0.025,0.05),(-0.035,0.12),(-0.015,0.2),(0.02,0.27),(0.03,0.33),(0.015,0.39),(-0.02,0.45),(-0.065,0.53),(-0.1,0.63),(-0.12,0.74),(-0.11,0.83),(-0.085,0.88),(-0.05,0.89),(-0.02,0.86),(0.02,0.81),(0.05,0.77)]),
]
P16 = [
    ("Cis", [(0,0),(-0.02,0.08),(-0.04,0.18),(-0.06,0.32),(-0.075,0.46),(-0.09,0.6),(-0.1,0.72),(-0.1,0.82),(-0.085,0.88),(-0.06,0.9),(-0.035,0.87),(-0.02,0.82),(-0.01,0.8)]),
    ("Cis", [(0,0),(-0.02,0.08),(-0.035,0.18),(-0.05,0.32),(-0.06,0.46),(-0.07,0.6),(-0.08,0.72),(-0.08,0.82),(-0.065,0.89),(-0.04,0.91),(-0.01,0.91),(0.02,0.88),(0.06,0.85)]),
    ("Cib", [(0,0),(-0.015,0.08),(-0.03,0.18),(-0.045,0.32),(-0.055,0.46),(-0.065,0.6),(-0.075,0.72),(-0.08,0.83),(-0.07,0.92),(-0.045,0.97),(-0.02,0.97),(0.01,0.93),(0.03,0.9),(0.05,0.88)]),
    ("Cib", [(0,0),(-0.02,0.08),(-0.04,0.18),(-0.06,0.32),(-0.075,0.46),(-0.085,0.6),(-0.095,0.72),(-0.1,0.83),(-0.09,0.91),(-0.07,0.94),(-0.04,0.92),(-0.02,0.86),(0.0,0.84)]),
    ("DL", [(0,0),(-0.015,0.08),(-0.025,0.18),(-0.035,0.32),(-0.045,0.46),(-0.055,0.6),(-0.065,0.72),(-0.06,0.82),(-0.04,0.88),(-0.01,0.9),(0.02,0.88),(0.045,0.83),(0.06,0.79),(0.055,0.76)]),
    ("DL", [(0,0),(-0.02,0.08),(-0.03,0.18),(-0.04,0.32),(-0.05,0.46),(-0.06,0.6),(-0.07,0.72),(-0.075,0.82),(-0.06,0.88),(-0.035,0.9),(-0.01,0.87),(0.01,0.82),(0.03,0.77)]),
    ("R", [(0,0),(-0.025,0.08),(-0.045,0.18),(-0.065,0.32),(-0.08,0.46),(-0.095,0.6),(-0.105,0.72),(-0.105,0.82),(-0.095,0.88),(-0.075,0.89),(-0.06,0.86),(-0.05,0.82),(-0.045,0.8)]),
    ("R", [(0,0),(-0.02,0.08),(-0.04,0.18),(-0.055,0.32),(-0.065,0.46),(-0.075,0.6),(-0.085,0.72),(-0.09,0.82),(-0.08,0.88),(-0.055,0.9),(-0.03,0.89),(-0.005,0.86),(0.02,0.82)]),
]

ALL_CURVES = [P01, P02, P03, P04, P05, P06, P07, P08, P09, P10, P11, P12, P13, P14, P15, P16]
GRAY_PANELS = ["P08"]


def main():
    fig = plt.figure(figsize=(10.8, 15.01), dpi=100)
    W, H = 1080.0, 1501.0
    ax_w, ax_h = 226.0, 286.0

    axes = []
    for idx in range(16):
        r, c = divmod(idx, 4)
        left = 100.0 + 253.4 * c
        top = 44.0 + 365.3 * r
        ax = fig.add_axes([left / W, 1 - (top + ax_h) / H, ax_w / W, ax_h / H])
        axes.append(ax)

    for idx, ax in enumerate(axes):
        title = TITLES[idx]
        gray = title in GRAY_PANELS
        for cond, pts in ALL_CURVES[idx]:
            xy = np.array(pts)
            col = GRAY if gray else COLORS[cond]
            ax.plot(xy[:, 0], xy[:, 1], color=col, lw=1.8, alpha=0.9,
                    solid_joinstyle="round", solid_capstyle="round")
        ax.axvline(0, color="k", ls="--", lw=2, zorder=5)

        handles = []
        for i, cond in enumerate(SESSIONS[idx]):
            col = GRAY if gray else COLORS[cond]
            handles.append(Line2D([0], [0], color=col, lw=2, label="S%d (%s)" % (i + 1, cond)))
        ax.legend(handles=handles, loc="lower right", fontsize=8, handlelength=2.0)

        ax.set_xlim(-0.3, 0.3)
        ax.set_ylim(-0.05, 1.09)
        ax.set_xticks([-0.2, 0.0, 0.2])
        ax.set_yticks([0.0, 0.2, 0.4, 0.6, 0.8, 1.0])
        ax.tick_params(labelsize=12)
        if idx % 4 != 0:
            ax.set_yticklabels([])
        ax.set_title(title, fontsize=15)

    fig.text(0.509, 0.009, "Horizontal position (% Body height)", ha="center", va="center",
             fontsize=17, family=["Open Sans", "DejaVu Sans"])
    fig.text(0.024, 0.495, "Vertical position (% Body height)", ha="center", va="center",
             rotation=90, fontsize=17, family=["Open Sans", "DejaVu Sans"])

    fig.savefig("out.png", dpi=100)


if __name__ == "__main__":
    main()
